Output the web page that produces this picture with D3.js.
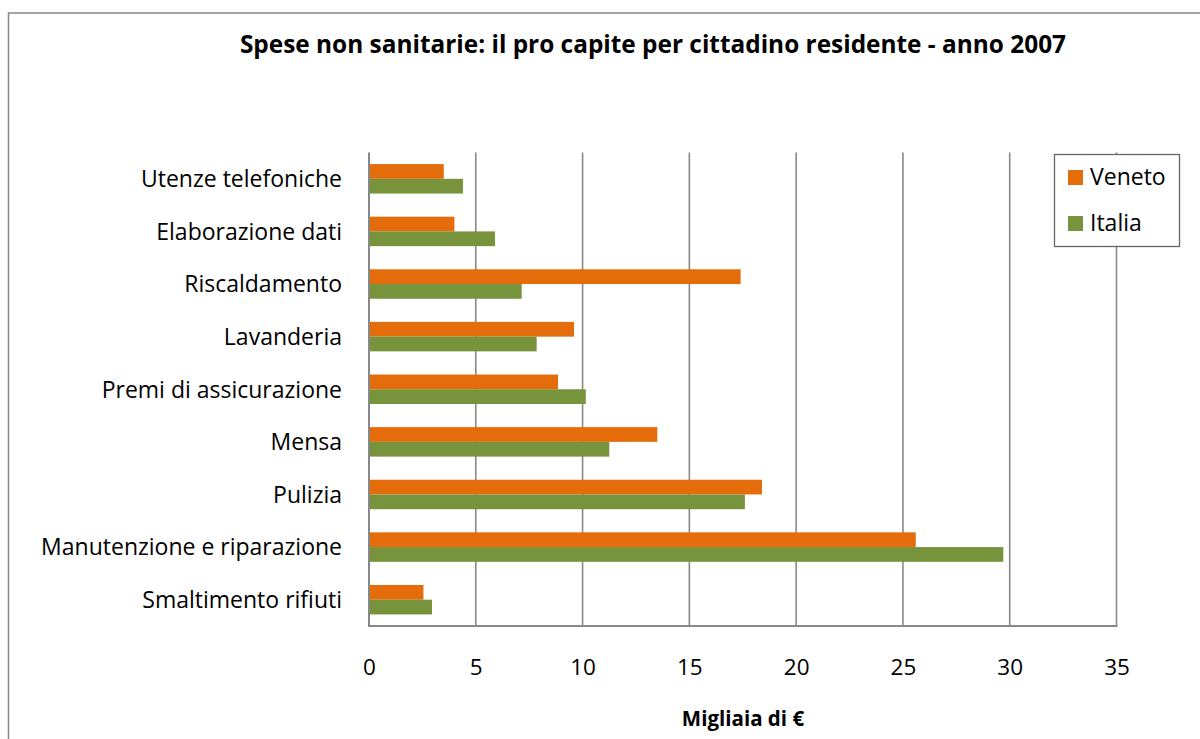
<!DOCTYPE html>
<html>
<head>
<meta charset="utf-8">
<script src="https://cdn.jsdelivr.net/npm/d3@7"></script>
<style>
  html, body { margin: 0; padding: 0; background: #fff; }
  svg { display: block; font-family: "Open Sans", Lato, sans-serif; }
</style>
</head>
<body>
<svg id="chart" width="1200" height="739"></svg>
<script>
// Categories, top to bottom
const categories = [
  "Utenze telefoniche",
  "Elaborazione dati",
  "Riscaldamento",
  "Lavanderia",
  "Premi di assicurazione",
  "Mensa",
  "Pulizia",
  "Manutenzione e riparazione",
  "Smaltimento rifiuti"
];
// Spesa pro capite (migliaia di €)
const veneto = [3.5, 4.0, 17.4, 9.6, 8.85, 13.5, 18.4, 25.6, 2.55];
const italia = [4.4, 5.9, 7.15, 7.85, 10.15, 11.25, 17.6, 29.7, 2.95];
const seriesNames = ["Veneto", "Italia"];
const seriesColors = ["#E46C0A", "#77933C"];
const xTicks = [0, 5, 10, 15, 20, 25, 30, 35];

const svg = d3.select("#chart");
const plot = { left: 369, right: 1116.5, top: 152.5, bottom: 626 };

// outer frame
svg.append("rect")
  .attr("x", 8.5).attr("y", 13)
  .attr("width", 1200).attr("height", 760)
  .attr("fill", "#fff").attr("stroke", "#888").attr("stroke-width", 1.5);

const x = d3.scaleLinear().domain([0, 35]).range([plot.left, plot.right]);
const y = d3.scaleBand().domain(categories)
  .range([plot.top, plot.bottom])
  .paddingInner(0.44).paddingOuter(0.22);
const sub = d3.scaleBand().domain(seriesNames).range([0, y.bandwidth()]);

// vertical gridlines
svg.append("g").selectAll("line")
  .data(xTicks.slice(1))
  .join("line")
  .attr("x1", d => x(d)).attr("x2", d => x(d))
  .attr("y1", plot.top).attr("y2", plot.bottom)
  .attr("stroke", "#888").attr("stroke-width", 1.6);

// bars
const rows = categories.map((c, i) => ({ c, vals: [veneto[i], italia[i]] }));
const g = svg.append("g");
rows.forEach(r => {
  r.vals.forEach((v, k) => {
    g.append("rect")
      .attr("x", x(0))
      .attr("y", y(r.c) + sub(seriesNames[k]))
      .attr("width", x(v) - x(0))
      .attr("height", sub.bandwidth())
      .attr("fill", seriesColors[k]);
  });
});

// axis lines
svg.append("line")
  .attr("x1", x(0)).attr("x2", x(0))
  .attr("y1", plot.top).attr("y2", plot.bottom)
  .attr("stroke", "#888").attr("stroke-width", 2);
svg.append("line")
  .attr("x1", x(0) - 1).attr("x2", plot.right + 1)
  .attr("y1", plot.bottom).attr("y2", plot.bottom)
  .attr("stroke", "#888").attr("stroke-width", 2);

// x tick labels
const xAxis = d3.axisBottom(x).tickValues(xTicks).tickSize(0).tickPadding(0);
const xg = svg.append("g").attr("transform", `translate(0,${plot.bottom})`).call(xAxis);
xg.select(".domain").remove();
xg.selectAll("text")
  .attr("y", 49).attr("dy", null)
  .attr("fill", "#000")
  .style("font-family", "'Open Sans', sans-serif")
  .style("font-size", "22.5px");

// category labels
const yAxis = d3.axisLeft(y).tickSize(0).tickPadding(0);
const yg = svg.append("g").attr("transform", `translate(${plot.left - 27},0)`).call(yAxis);
yg.select(".domain").remove();
yg.selectAll("text")
  .attr("x", 0).attr("dy", "0.36em")
  .attr("fill", "#000")
  .style("font-family", "'Open Sans', sans-serif")
  .style("font-size", "23px");

// title
svg.append("text")
  .attr("x", 653).attr("y", 53)
  .attr("text-anchor", "middle")
  .style("font-weight", "bold").style("font-size", "24.4px")
  .text("Spese non sanitarie: il pro capite per cittadino residente - anno 2007");

// axis title
svg.append("text")
  .attr("x", 743).attr("y", 726)
  .attr("text-anchor", "middle")
  .style("font-weight", "bold").style("font-size", "20.5px")
  .text("Migliaia di €");

// legend
const lg = svg.append("g");
lg.append("rect")
  .attr("x", 1054.5).attr("y", 154.5).attr("width", 125).attr("height", 92)
  .attr("fill", "#fff").attr("stroke", "#666").attr("stroke-width", 1.3);
seriesNames.forEach((s, i) => {
  lg.append("rect")
    .attr("x", 1068).attr("y", 170 + i * 46)
    .attr("width", 15).attr("height", 15)
    .attr("fill", seriesColors[i]);
  lg.append("text")
    .attr("x", 1090).attr("y", 185 + i * 46)
    .style("font-size", "23px")
    .text(s);
});
</script>
</body>
</html>
